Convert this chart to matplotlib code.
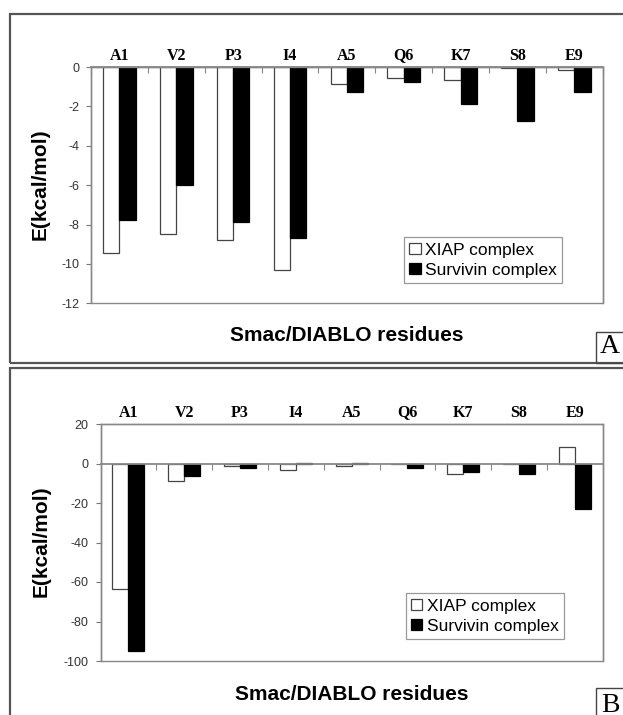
import numpy as np
import matplotlib
matplotlib.use("Agg")
import matplotlib.pyplot as plt
from matplotlib.patches import Rectangle
from matplotlib.font_manager import FontProperties

residues = ["A1", "V2", "P3", "I4", "A5", "Q6", "K7", "S8", "E9"]
series_names = ["XIAP complex", "Survivin complex"]

# Panel A values (kcal/mol)
xiap_a = [-9.45, -8.5, -8.8, -10.3, -0.85, -0.55, -0.65, -0.05, -0.15]
surv_a = [-7.75, -6.0, -7.85, -8.7, -1.27, -0.75, -1.9, -2.75, -1.25]

# Panel B values (kcal/mol)
xiap_b = [-63.5, -9.0, -1.5, -3.5, -1.3, -0.3, -5.5, -0.2, 8.4]
surv_b = [-95.0, -6.5, -2.5, 0.5, 0.5, -2.5, -4.5, -5.5, -23.0]

yticks_a = [0, -2, -4, -6, -8, -10, -12]
yticks_b = [20, 0, -20, -40, -60, -80, -100]

W, H = 623, 715
fig = plt.figure(figsize=(W / 100, H / 100), dpi=100)

SANS = ["Liberation Sans", "DejaVu Sans"]
SERIF = ["Liberation Serif", "DejaVu Serif"]

def px_rect(x0, y0top, x1, y1bottom, **kw):
    # figure-pixel coordinates (origin top-left) -> figure fraction
    r = Rectangle((x0 / W, 1 - y1bottom / H), (x1 - x0) / W, (y1bottom - y0top) / H,
                  transform=fig.transFigure, fill=False, **kw)
    fig.patches.append(r)

# panel frames
px_rect(10, 14, 640, 362.7, edgecolor="#555555", linewidth=1.6)
px_rect(10, 368.3, 640, 740, edgecolor="#555555", linewidth=1.6)
# letter boxes
px_rect(596, 332, 640, 362.7, edgecolor="#444444", linewidth=1.0)
px_rect(596, 688, 640, 740, edgecolor="#444444", linewidth=1.0)
fig.text(610 / W, 1 - 347 / H, "A", family=SERIF, fontsize=20, ha="center", va="center")
fig.text(610 / W, 1 - 705 / H, "B", family=SERIF, fontsize=20, ha="center", va="center")

cat_font = FontProperties(family=SERIF, weight="bold", size=11.5)


def panel(rect, xiap, surv, yticks, ylim, ylab_x, xlab_y, leg_anchor):
    ax = fig.add_axes(rect)
    ax.spines["bottom"].set_position(("data", 0))
    x = np.arange(len(residues))
    bw = 1 / 3.5
    ax.bar(x - bw / 2, xiap, bw, color="white", edgecolor="#444444", linewidth=0.9,
           label=series_names[0], zorder=2)
    ax.bar(x + bw / 2, surv, bw, color="black", edgecolor="black", linewidth=0.9,
           label=series_names[1], zorder=2)
    ax.set_xlim(-0.5, len(residues) - 0.5)
    ax.set_ylim(*ylim)
    ax.set_yticks(yticks)
    ax.set_yticklabels([str(t) for t in yticks], family=SANS, fontsize=9, color="#333333")
    ax.tick_params(axis="y", direction="out", length=3.5, width=0.8, color="#777777", pad=5)

    # category labels on top
    ax.set_xticks(x)
    ax.set_xticklabels(residues)
    ax.set_xticks(np.arange(-0.5, len(residues), 1), minor=True)
    ax.tick_params(axis="x", which="major", bottom=False, top=False, length=0,
                   labelbottom=False, labeltop=True, pad=2.5)
    ax.tick_params(axis="x", which="minor", bottom=True, top=False, direction="out",
                   length=4, width=0.8, color="#888888")
    for t in ax.xaxis.get_major_ticks():
        t.label2.set_fontproperties(cat_font)
        t.label2.set_color("black")

    for s in ["top", "left", "right"]:
        ax.spines[s].set_color("#888888")
        ax.spines[s].set_linewidth(1.0)
    ax.spines["bottom"].set_color("#888888")
    ax.spines["bottom"].set_linewidth(1.3)
    ax.spines["bottom"].set_zorder(3)
    ax.patch.set_edgecolor("#888888")
    ax.patch.set_linewidth(1.0)

    ax.set_ylabel("E(kcal/mol)", family=SANS, fontweight="bold", fontsize=15)
    ax.yaxis.set_label_coords(ylab_x, 0.505)
    ax.set_xlabel("Smac/DIABLO residues", family=SANS, fontweight="bold", fontsize=15)
    ax.xaxis.set_label_position("bottom")
    ax.xaxis.set_label_coords(0.5, xlab_y)

    leg = ax.legend(loc="lower left", bbox_to_anchor=leg_anchor, borderaxespad=0,
                    prop={"family": SANS, "size": 12.5}, frameon=True, fancybox=False,
                    edgecolor="#999999", framealpha=1, handlelength=0.65, handleheight=0.65,
                    handletextpad=0.25, labelspacing=0.3, borderpad=0.3)
    leg.get_frame().set_linewidth(0.9)
    return ax


panel([91 / W, 1 - 303.3 / H, 511.7 / W, 236.3 / H], xiap_a, surv_a, yticks_a, (-12, 0),
      -0.08, -0.095, (0.612, 0.086))
panel([100.5 / W, 1 - 661 / H, 502.2 / W, 237 / H], xiap_b, surv_b, yticks_b, (-100, 20),
      -0.10, -0.10, (0.608, 0.093))

fig.savefig("out.png", dpi=100)
